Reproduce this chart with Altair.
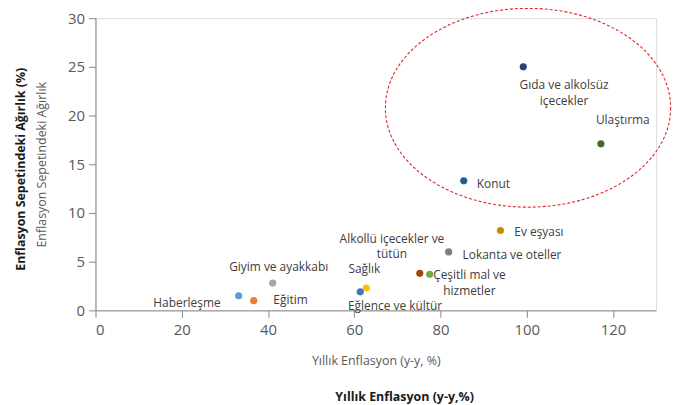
import altair as alt
import pandas as pd

categories = ["Gıda ve alkolsüz\niçecekler", "Ulaştırma", "Konut", "Ev eşyası",
              "Lokanta ve oteller", "Alkollü içecekler ve\ntütün", "Çeşitli mal ve\nhizmetler",
              "Sağlık", "Eğlence ve kültür", "Giyim ve ayakkabı", "Haberleşme", "Eğitim"]
annual_inflation = [99.2, 117.2, 85.4, 93.9, 81.9, 75.2, 77.5, 62.8, 61.4, 41.1, 33.2, 36.7]
basket_weight = [25.0, 17.1, 13.3, 8.2, 6.0, 3.8, 3.7, 2.3, 1.9, 2.8, 1.5, 1.0]
colors = ["#264478", "#43682B", "#255E91", "#BF9000", "#7F7F7F", "#9E480E", "#70AD47",
          "#FFC000", "#4472C4", "#A5A5A5", "#5B9BD5", "#ED7D31"]
x_ticks = [0, 20, 40, 60, 80, 100, 120]
y_ticks = [0, 5, 10, 15, 20, 25, 30]
highlight_center_x = [100.3]
highlight_center_y = [20.8]

df = pd.DataFrame({"cat": categories, "x": annual_inflation, "y": basket_weight, "color": colors})
ell = pd.DataFrame({"x": highlight_center_x, "y": highlight_center_y})

FONT = "Open Sans"
xs = alt.Scale(domain=[0, 130], nice=False)
ys = alt.Scale(domain=[0, 30], nice=False)

base = alt.Chart(df)

points = base.mark_point(filled=True, size=52, opacity=1, shape="circle").encode(
    x=alt.X("x:Q", scale=xs, axis=alt.Axis(
        values=x_ticks, title="Yıllık Enflasyon (y-y, %)", grid=False,
        domainColor="#888888", tickColor="#888888", tickSize=7, labelPadding=5,
        labelFontSize=15, labelColor="#595959", labelFont=FONT,
        titleFont=FONT, titleFontSize=12.5, titleFontWeight="normal", titleColor="#595959",
        titlePadding=17)),
    y=alt.Y("y:Q", scale=ys, axis=alt.Axis(
        values=y_ticks, title="Enflasyon Sepetindeki Ağırlık", grid=False,
        domainColor="#888888", tickColor="#888888", tickSize=7, labelPadding=4,
        labelFontSize=15, labelColor="#595959", labelFont=FONT,
        titleFont=FONT, titleFontSize=12.5, titleFontWeight="normal", titleColor="#595959",
        titlePadding=19)),
    color=alt.Color("color:N", scale=None),
)

# label placements (style only): dx, dy (first line), align
offsets = {
    categories[0]: (41, 18, "center"),
    categories[1]: (22, -24, "center"),
    categories[2]: (13, 3, "left"),
    categories[3]: (14, 2, "left"),
    categories[4]: (14, 3, "left"),
    categories[5]: (-28, -35, "center"),
    categories[6]: (40, 1, "center"),
    categories[7]: (-2, -19, "center"),
    categories[8]: (35, 14, "center"),
    categories[9]: (6, -16, "center"),
    categories[10]: (-52, 7, "center"),
    categories[11]: (37, -1, "center"),
}

labels = []
for cat, (dx, dy, al) in offsets.items():
    labels.append(
        base.transform_filter(alt.datum.cat == cat).mark_text(
            dx=dx, dy=dy, align=al, baseline="middle", lineBreak="\n",
            font=FONT, fontSize=12, color="#404040", lineHeight=16
        ).encode(x=alt.X("x:Q", scale=xs), y=alt.Y("y:Q", scale=ys), text="cat:N")
    )

a, b, k = 1.0, 0.697, 0.5523
ellipse_path = (
    f"M {a} 0 C {a} {k*b:.4f} {k*a:.4f} {b} 0 {b} "
    f"C {-k*a:.4f} {b} {-a} {k*b:.4f} {-a} 0 "
    f"C {-a} {-k*b:.4f} {-k*a:.4f} {-b} 0 {-b} "
    f"C {k*a:.4f} {-b} {a} {-k*b:.4f} {a} 0 Z"
)
ellipse = alt.Chart(ell).mark_point(
    shape=ellipse_path, size=(2 * 143.5) ** 2, filled=False, stroke="#E0262B",
    strokeWidth=1.1, strokeDash=[3, 2], opacity=1
).encode(x=alt.X("x:Q", scale=xs), y=alt.Y("y:Q", scale=ys))

bold_y = alt.Chart(pd.DataFrame({"t": ["Enflasyon Sepetindeki Ağırlık (%)"]})).mark_text(
    angle=270, font=FONT, fontSize=12.5, fontWeight="bold", color="#1a1a1a", baseline="middle"
).encode(x=alt.value(-75), y=alt.value(152), text="t:N")

bold_x = alt.Chart(pd.DataFrame({"t": ["Yıllık Enflasyon (y-y,%)"]})).mark_text(
    font=FONT, fontSize=12.5, fontWeight="bold", color="#1a1a1a", baseline="middle"
).encode(x=alt.value(311), y=alt.value(381), text="t:N")

chart = alt.layer(ellipse, points, *labels, bold_y, bold_x).properties(
    width=564, height=294,
    autosize=alt.AutoSizeParams(type="none"),
    padding={"left": 88, "top": 9, "right": 18, "bottom": 93},
).configure_view(stroke=None).configure(background="white")

chart.save("out.html", embed_options={"renderer": "svg", "actions": False})
